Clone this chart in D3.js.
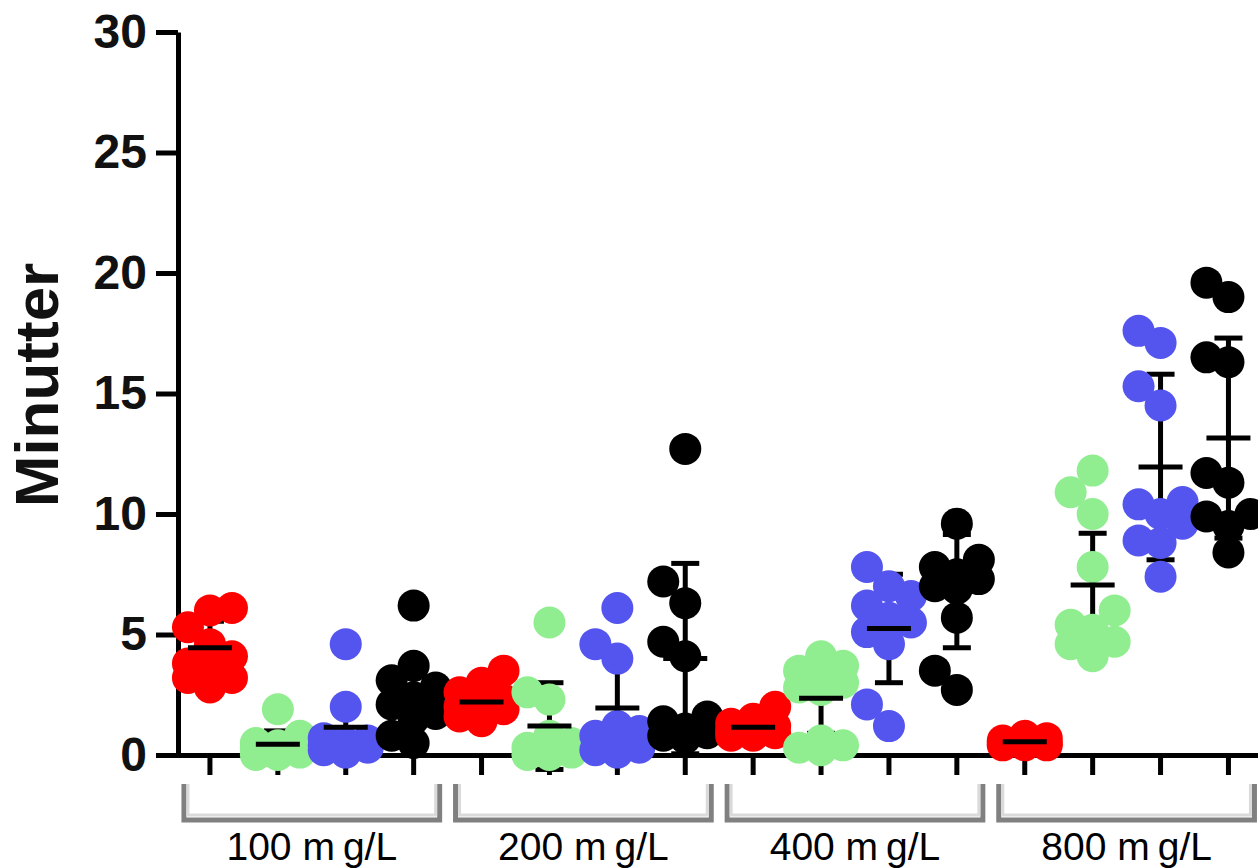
<!DOCTYPE html>
<html>
<head>
<meta charset="utf-8">
<script src="https://cdn.jsdelivr.net/npm/d3@7"></script>
<style>
  body { margin: 0; background: #fff; }
  svg { display: block; }
</style>
</head>
<body>
<div id="chart"></div>
<script>
// dose groups on the x axis, 4 series each
const doses = ["100 mg/L", "200 mg/L", "400 mg/L", "800 mg/L"];
const seriesNames = ["red", "green", "blue", "black"];
const seriesColors = ["#ff0000", "#90ee90", "#5454ee", "#000000"];
const yTicks = [0, 5, 10, 15, 20, 25, 30];

// individual points, one list per dose
const redValues = [
  [6.1, 6.0, 5.3, 4.6, 4.1, 3.8, 3.7, 3.2, 3.2, 2.8],
  [3.5, 3.0, 2.6, 2.3, 2.1, 2.0, 1.9, 1.9, 1.6, 1.4],
  [2.0, 1.5, 1.3, 1.2, 1.1, 1.0, 0.9, 0.9, 0.8, 0.8],
  [0.8, 0.7, 0.6, 0.6, 0.5, 0.5, 0.5, 0.4, 0.4, 0.4]
];
const greenValues = [
  [1.9, 0.8, 0.5, 0.4, 0.3, 0.3, 0.2, 0.1, 0.0, 0.0],
  [5.5, 2.6, 2.3, 0.8, 0.5, 0.3, 0.2, 0.1, 0.0, 0.0],
  [4.1, 3.7, 3.5, 3.3, 3.0, 2.8, 2.7, 0.6, 0.4, 0.3, 0.2],
  [11.8, 10.9, 10.0, 7.8, 6.0, 5.4, 5.2, 4.7, 4.6, 4.1]
];
const blueValues = [
  [4.6, 2.0, 0.7, 0.6, 0.5, 0.4, 0.3, 0.3, 0.2, 0.1],
  [6.1, 4.6, 4.0, 1.2, 1.0, 0.8, 0.5, 0.3, 0.2, 0.1],
  [7.8, 7.0, 6.6, 6.2, 5.7, 5.5, 5.1, 4.6, 2.1, 1.2],
  [17.6, 17.1, 15.3, 14.5, 10.5, 10.4, 10.0, 9.6, 8.9, 8.8, 7.4]
];
const blackValues = [
  [6.2, 3.7, 3.1, 2.8, 2.4, 2.1, 1.7, 1.5, 0.8, 0.5],
  [12.7, 7.2, 6.3, 4.7, 4.1, 1.6, 1.4, 1.1, 0.9, 0.8, 0.7],
  [9.6, 8.1, 7.8, 7.5, 7.3, 7.0, 6.9, 5.7, 3.5, 2.7],
  [19.6, 19.0, 16.5, 16.3, 11.7, 11.3, 10.0, 9.9, 9.5, 8.4]
];

// mean and SD bars as drawn
const redMean = [4.45, 2.2, 1.15, 0.55];
const redSD = [1.1, 0.6, 0.4, 0.15];
const greenMean = [0.45, 1.2, 2.35, 7.05];
const greenSD = [0.55, 1.8, 1.45, 2.15];
const blueMean = [1.15, 1.95, 5.25, 11.95];
const blueSD = [1.0, 2.1, 2.25, 3.85];
const blackMean = [2.2, 4.0, 6.8, 13.15];
const blackSD = [1.65, 3.95, 2.35, 4.15];

const allValues = [redValues, greenValues, blueValues, blackValues];
const allMeans = [redMean, greenMean, blueMean, blackMean];
const allSDs = [redSD, greenSD, blueSD, blackSD];

// build columns: dose x series
const columns = [];
doses.forEach((dose, g) => {
  seriesNames.forEach((s, k) => {
    columns.push({
      key: dose + "|" + s,
      dose: dose,
      color: seriesColors[k],
      values: allValues[k][g],
      mean: allMeans[k][g],
      sd: allSDs[k][g]
    });
  });
});

const width = 1258, height = 868;
const svg = d3.select("#chart").append("svg")
  .attr("width", width)
  .attr("height", height);

// scales
const axisX = 178, axisY = 755;
const x = d3.scaleBand()
  .domain(columns.map(d => d.key))
  .range([176, 176 + 16 * 67.9])
  .padding(0);
const y = d3.scaleLinear()
  .domain([0, 30])
  .range([axisY, 32]);
const cx = key => x(key) + x.bandwidth() / 2;

// axes
const yAxis = svg.append("g")
  .attr("transform", "translate(" + axisX + ",0)")
  .call(d3.axisLeft(y).tickValues(yTicks).tickSize(22).tickSizeOuter(0).tickPadding(9));
yAxis.selectAll("path, line").attr("stroke", "#000").attr("stroke-width", 5);
yAxis.selectAll("text")
  .attr("font-family", "'Liberation Sans', Arial, sans-serif")
  .attr("font-weight", "bold")
  .attr("font-size", 48)
  .attr("fill", "#111");

const xAxis = svg.append("g")
  .attr("transform", "translate(0," + axisY + ")")
  .call(d3.axisBottom(x).tickSize(20).tickSizeOuter(0).tickFormat(""));
xAxis.selectAll("path, line").attr("stroke", "#000").attr("stroke-width", 5);

svg.append("text")
  .attr("transform", "translate(58,385) rotate(-90)")
  .attr("text-anchor", "middle")
  .attr("font-family", "'Liberation Sans', Arial, sans-serif")
  .attr("font-weight", "bold")
  .attr("font-size", 62)
  .attr("fill", "#111")
  .text("Minutter");

// group brackets and labels
doses.forEach(dose => {
  const cols = columns.filter(d => d.dose === dose);
  const x1 = cx(cols[0].key) - 26;
  const x2 = cx(cols[cols.length - 1].key) + 26;
  svg.append("path")
    .attr("d", `M${x1},784 V820 H${x2} V784`)
    .attr("fill", "none")
    .attr("stroke", "#808080")
    .attr("stroke-width", 5);
  svg.append("path")
    .attr("d", `M${x1 + 4},784 V815 H${x2 - 4} V784`)
    .attr("fill", "none")
    .attr("stroke", "#dadada")
    .attr("stroke-width", 3);
  const label = svg.append("text")
    .attr("x", (x1 + x2) / 2)
    .attr("y", 860)
    .attr("text-anchor", "middle")
    .attr("font-family", "'Liberation Sans', Arial, sans-serif")
    .attr("font-size", 39)
    .attr("fill", "#000");
  const parts = dose.split("g");
  label.append("tspan").text(parts[0]);
  label.append("tspan").attr("dx", 8).text("g" + parts[1]);
});

// simple swarm: three lanes, overlap allowed when crowded
function swarm(values, center) {
  const offsets = [0, -22, 22];
  const placed = [];
  values.slice().sort((a, b) => a - b).forEach(v => {
    const py = y(v);
    let best = center, bestD = -1;
    for (const o of offsets) {
      const px = center + o;
      const d = placed.length ? d3.min(placed, p => Math.hypot(p.x - px, p.y - py)) : Infinity;
      if (d >= 24) { best = px; bestD = d; break; }
      if (d > bestD) { bestD = d; best = px; }
    }
    placed.push({x: best, y: py, v: v});
  });
  return placed;
}

const plot = svg.append("g");

// error bars (under the points)
columns.forEach(col => {
  const c = cx(col.key);
  const top = y(col.mean + col.sd), bot = y(col.mean - col.sd);
  const g = plot.append("g").attr("stroke", "#000").attr("stroke-width", 5);
  g.append("line").attr("x1", c).attr("x2", c).attr("y1", top).attr("y2", bot);
  g.append("line").attr("x1", c - 14).attr("x2", c + 14).attr("y1", top).attr("y2", top);
  g.append("line").attr("x1", c - 14).attr("x2", c + 14).attr("y1", bot).attr("y2", bot);
});

// points
columns.forEach(col => {
  plot.append("g").selectAll("circle")
    .data(swarm(col.values, cx(col.key)))
    .enter()
    .append("circle")
    .attr("cx", d => d.x)
    .attr("cy", d => d.y)
    .attr("r", 16)
    .attr("fill", col.color);
});

// mean lines on top
columns.forEach(col => {
  const c = cx(col.key);
  plot.append("line")
    .attr("x1", c - 22).attr("x2", c + 22)
    .attr("y1", y(col.mean)).attr("y2", y(col.mean))
    .attr("stroke", "#000")
    .attr("stroke-width", 5);
});
</script>
</body>
</html>
